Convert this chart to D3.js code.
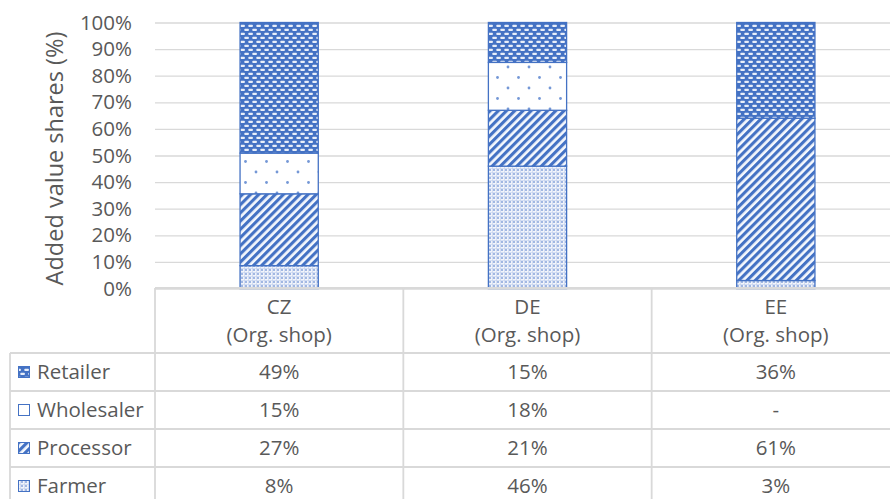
<!DOCTYPE html>
<html>
<head>
<meta charset="utf-8">
<script src="https://cdn.jsdelivr.net/npm/d3@7"></script>
<style>
  body { margin: 0; background: white; }
  text { font-family: 'Open Sans', sans-serif; fill: #595959; }
</style>
</head>
<body>
<svg id="chart" width="890" height="499"></svg>
<script>
/* DATA */

const categories = ['CZ', 'DE', 'EE']
const categoryNote = '(Org. shop)'
const stages = ['Farmer', 'Processor', 'Wholesaler', 'Retailer']

// Bar segments (% of added value)
const farmer = [8.6, 46, 3]
const processor = [27, 21, 61]
const wholesaler = [15.3, 18, 0]
const retailer = [49.1, 15, 36]

// Table below the chart
const tableRows = ['Retailer', 'Wholesaler', 'Processor', 'Farmer']
const retailerLabels = ['49%', '15%', '36%']
const wholesalerLabels = ['15%', '18%', '-']
const processorLabels = ['27%', '21%', '61%']
const farmerLabels = ['8%', '46%', '3%']

const yTicks = [0, 10, 20, 30, 40, 50, 60, 70, 80, 90, 100]

/* COLOURS */

const blue = '#4472c4'
const gridGrey = '#d9d9d9'

/* LAYOUT */

const plotLeft = 155
const plotRight = 900
const plotTop = 22.5
const plotBottom = 288.5
const headerBottom = 353
const rowHeight = 38

const svg = d3.select('#chart')
const defs = svg.append('defs')

/* PATTERNS */

// Retailer: blue with white dashes
const pRetail = defs.append('pattern')
  .attr('id', 'pat-Retailer')
  .attr('patternUnits', 'userSpaceOnUse')
  .attr('width', 8)
  .attr('height', 8)
pRetail.append('rect').attr('width', 8).attr('height', 8).attr('fill', blue)
pRetail.append('rect').attr('x', 0.3).attr('y', 0.8).attr('width', 4.6).attr('height', 2.2).attr('rx', 0.8).attr('fill', '#e8eef9')
pRetail.append('rect').attr('x', 4.3).attr('y', 4.8).attr('width', 4.6).attr('height', 2.2).attr('rx', 0.8).attr('fill', '#e8eef9')
pRetail.append('rect').attr('x', -3.7).attr('y', 4.8).attr('width', 4.6).attr('height', 2.2).attr('rx', 0.8).attr('fill', '#e8eef9')

// Wholesaler: white with sparse dots
const pWhole = defs.append('pattern')
  .attr('id', 'pat-Wholesaler')
  .attr('patternUnits', 'userSpaceOnUse')
  .attr('width', 21)
  .attr('height', 21)
pWhole.append('rect').attr('width', 21).attr('height', 21).attr('fill', 'white')
pWhole.append('circle').attr('cx', 4).attr('cy', 4).attr('r', 1.4).attr('fill', '#7497d6')
pWhole.append('circle').attr('cx', 14.5).attr('cy', 14.5).attr('r', 1.4).attr('fill', '#7497d6')

// Processor: wide diagonal stripes
const pProc = defs.append('pattern')
  .attr('id', 'pat-Processor')
  .attr('patternUnits', 'userSpaceOnUse')
  .attr('width', 5.8)
  .attr('height', 10)
  .attr('patternTransform', 'rotate(45)')
pProc.append('rect').attr('width', 5.8).attr('height', 10).attr('fill', '#f5f8fd')
pProc.append('rect').attr('width', 3.1).attr('height', 10).attr('fill', blue)

// Farmer: fine dotted grid
const pFarm = defs.append('pattern')
  .attr('id', 'pat-Farmer')
  .attr('patternUnits', 'userSpaceOnUse')
  .attr('width', 4)
  .attr('height', 4)
pFarm.append('rect').attr('width', 4).attr('height', 4).attr('fill', '#f2f5fb')
pFarm.append('circle').attr('cx', 2).attr('cy', 2).attr('r', 1.1).attr('fill', '#8ea9dc')
pFarm.append('rect').attr('width', 4).attr('height', 0.6).attr('fill', '#c3d1ee')
pFarm.append('rect').attr('width', 0.6).attr('height', 4).attr('fill', '#c3d1ee')

/* SCALES */

const x = d3.scaleBand()
  .domain(categories)
  .range([plotLeft, plotRight])

const y = d3.scaleLinear()
  .domain([0, 100])
  .range([plotBottom, plotTop])

const barWidth = x.bandwidth() * 0.315

/* GRIDLINES + Y AXIS */

const yAxis = svg.append('g')
  .attr('transform', `translate(${plotLeft},0)`)
  .call(d3.axisLeft(y)
    .tickValues(yTicks)
    .tickSize(-(plotRight - plotLeft))
    .tickPadding(23)
    .tickFormat(d => d + '%'))

yAxis.select('.domain').remove()
yAxis.selectAll('line').attr('stroke', gridGrey).attr('stroke-width', 1.3)
yAxis.selectAll('text')
  .attr('font-size', 20.5)
  .attr('fill', '#595959')
  .attr('font-family', "'Open Sans', sans-serif")

svg.append('text')
  .attr('transform', `translate(55,${(plotTop + plotBottom) / 2 + 3}) rotate(-90)`)
  .attr('text-anchor', 'middle')
  .attr('dy', '0.35em')
  .attr('font-size', 23.5)
  .text('Added value shares (%)')

/* STACKED BARS */

const rows = categories.map((c, i) => ({
  category: c,
  Farmer: farmer[i],
  Processor: processor[i],
  Wholesaler: wholesaler[i],
  Retailer: retailer[i]
}))

const series = d3.stack().keys(stages)(rows)

svg.append('g')
  .selectAll('g')
  .data(series)
  .join('g')
    .attr('fill', d => `url(#pat-${d.key})`)
  .selectAll('rect')
  .data(d => d.filter(s => s[1] - s[0] > 0))
  .join('rect')
    .attr('x', d => x(d.data.category) + (x.bandwidth() - barWidth) / 2)
    .attr('y', d => y(d[1]))
    .attr('width', barWidth)
    .attr('height', d => y(d[0]) - y(d[1]))
    .attr('stroke', blue)
    .attr('stroke-width', 1.3)

/* TABLE */

const table = svg.append('g')
const tableLines = table.append('g')
  .attr('stroke', gridGrey)
  .attr('stroke-width', 1.8)

// Top border of header
tableLines.append('line')
  .attr('x1', plotLeft).attr('x2', plotRight)
  .attr('y1', plotBottom - 0.5).attr('y2', plotBottom - 0.5)

// Column separators
categories.forEach(c => {
  tableLines.append('line')
    .attr('x1', x(c)).attr('x2', x(c))
    .attr('y1', plotBottom - 0.5).attr('y2', 499)
})

// Left border of label column
tableLines.append('line')
  .attr('x1', 10).attr('x2', 10)
  .attr('y1', headerBottom).attr('y2', 499)

// Row separators
d3.range(tableRows.length).forEach(i => {
  tableLines.append('line')
    .attr('x1', 10).attr('x2', plotRight)
    .attr('y1', headerBottom + i * rowHeight).attr('y2', headerBottom + i * rowHeight)
})

// Header text
categories.forEach(c => {
  const cx = x(c) + x.bandwidth() / 2
  table.append('text')
    .attr('x', cx).attr('y', 307)
    .attr('dy', '0.35em')
    .attr('text-anchor', 'middle')
    .attr('font-size', 20.5)
    .text(c)
  table.append('text')
    .attr('x', cx).attr('y', 335)
    .attr('dy', '0.35em')
    .attr('text-anchor', 'middle')
    .attr('font-size', 20.5)
    .text(categoryNote)
})

// Row labels, legend keys and values
const rowLabels = {
  Retailer: retailerLabels,
  Wholesaler: wholesalerLabels,
  Processor: processorLabels,
  Farmer: farmerLabels
}

tableRows.forEach((r, i) => {
  const cy = headerBottom + i * rowHeight + rowHeight / 2

  table.append('rect')
    .attr('x', 18.5).attr('y', cy - 5.5)
    .attr('width', 11).attr('height', 11)
    .attr('fill', `url(#pat-${r})`)
    .attr('stroke', blue)
    .attr('stroke-width', 1)

  table.append('text')
    .attr('x', 37).attr('y', cy)
    .attr('dy', '0.35em')
    .attr('font-size', 20.5)
    .text(r)

  categories.forEach((c, j) => {
    table.append('text')
      .attr('x', x(c) + x.bandwidth() / 2).attr('y', cy)
      .attr('dy', '0.35em')
      .attr('text-anchor', 'middle')
      .attr('font-size', 20.5)
      .text(rowLabels[r][j])
  })
})
</script>
</body>
</html>
